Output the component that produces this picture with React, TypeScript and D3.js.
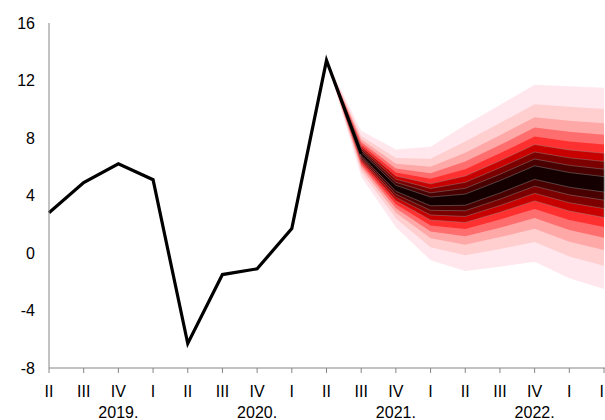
import React from "react";
import * as d3 from "d3";

const quarterLabels = ["II", "III", "IV", "I", "II", "III", "IV", "I", "II", "III", "IV", "I", "II", "III", "IV", "I", "II"];
const yearLabels = ["2019.", "2020.", "2021.", "2022."];
const yearLabelIndex = [2, 6, 10, 14];
const yTicks = [-8, -4, 0, 4, 8, 12, 16];

// Actual outcome (black line), index 0..9
const actual = [2.8, 4.9, 6.2, 5.1, -6.3, -1.5, -1.1, 1.7, 13.4, 6.9];

// Fan chart, index 8..16
const fanStart = 8;
const fanMedian = [13.4, 6.9, 4.5, 3.6, 3.7, 4.6, 5.6, 5.1, 4.8];
const fanUpper90 = [13.4, 8.5, 7.2, 7.4, 8.9, 10.3, 11.7, 11.6, 11.5];
const fanLower90 = [13.4, 5.3, 1.8, -0.5, -1.25, -0.95, -0.6, -1.75, -2.5];
// normal quantiles for central 10%,20%,...,90% intervals
const bandZ = [0.126, 0.253, 0.385, 0.524, 0.674, 0.842, 1.036, 1.282, 1.645];
const bandColors = ["#140000", "#480000", "#7c0000", "#c80000", "#ff3030", "#ff6e6e", "#ffa8a8", "#ffcfcf", "#ffe7ed"];

const W = 605;
const H = 420;
const FONT = "'Liberation Sans', Arial, sans-serif";
const FS = 16;

export default function App() {
  const x = d3.scalePoint<number>().domain(d3.range(quarterLabels.length)).range([49, 604]);
  const y = d3.scaleLinear().domain([-8, 16]).range([368, 23]);

  const fanIdx = fanMedian.map((_, i) => i + fanStart);
  const edge = (k: number, up: boolean) =>
    fanMedian.map((m, i) => {
      const far = up ? fanUpper90[i] : fanLower90[i];
      return m + ((far - m) * bandZ[k]) / bandZ[bandZ.length - 1];
    });

  const bands = bandZ
    .map((_, k) => {
      const hi = edge(k, true);
      const lo = edge(k, false);
      const a = d3
        .area<number>()
        .x((i) => x(fanIdx[i]) as number)
        .y0((i) => y(lo[i]))
        .y1((i) => y(hi[i]));
      return { k, d: a(fanIdx.map((_, i) => i)) as string };
    })
    .reverse();

  const line = d3
    .line<number>()
    .x((_, i) => x(i) as number)
    .y((v) => y(v));

  return (
    <svg
      width={W}
      height={H}
      style={{ position: "fixed", left: 0, top: 0, background: "#fff" }}
      fontFamily={FONT}
    >
      {bands.map((b) => (
        <path
          key={b.k}
          d={b.d}
          fill={bandColors[b.k]}
          stroke={b.k <= 3 ? "rgba(150,140,140,0.75)" : "none"}
          strokeWidth={0.6}
        />
      ))}
      <path d={line(actual) as string} fill="none" stroke="#000" strokeWidth={3.2} strokeLinejoin="miter" />
      {/* axes */}
      <line x1={49} x2={49} y1={23} y2={368} stroke="#868686" strokeWidth={1} />
      <line x1={49} x2={605} y1={368} y2={368} stroke="#868686" strokeWidth={1} />
      {quarterLabels.map((q, i) => (
        <g key={i}>
          <line x1={x(i)} x2={x(i)} y1={368} y2={373} stroke="#868686" strokeWidth={1} />
          <text x={x(i)} y={397} textAnchor="middle" fontSize={FS} fill="#000">
            {q}
          </text>
        </g>
      ))}
      {yearLabels.map((t, i) => (
        <text key={t} x={x(yearLabelIndex[i])} y={418} textAnchor="middle" fontSize={FS} fill="#000">
          {t}
        </text>
      ))}
      {yTicks.map((t) => (
        <text key={t} x={35} y={y(t)} dy="0.36em" textAnchor="end" fontSize={FS} fill="#000">
          {t}
        </text>
      ))}
    </svg>
  );
}
